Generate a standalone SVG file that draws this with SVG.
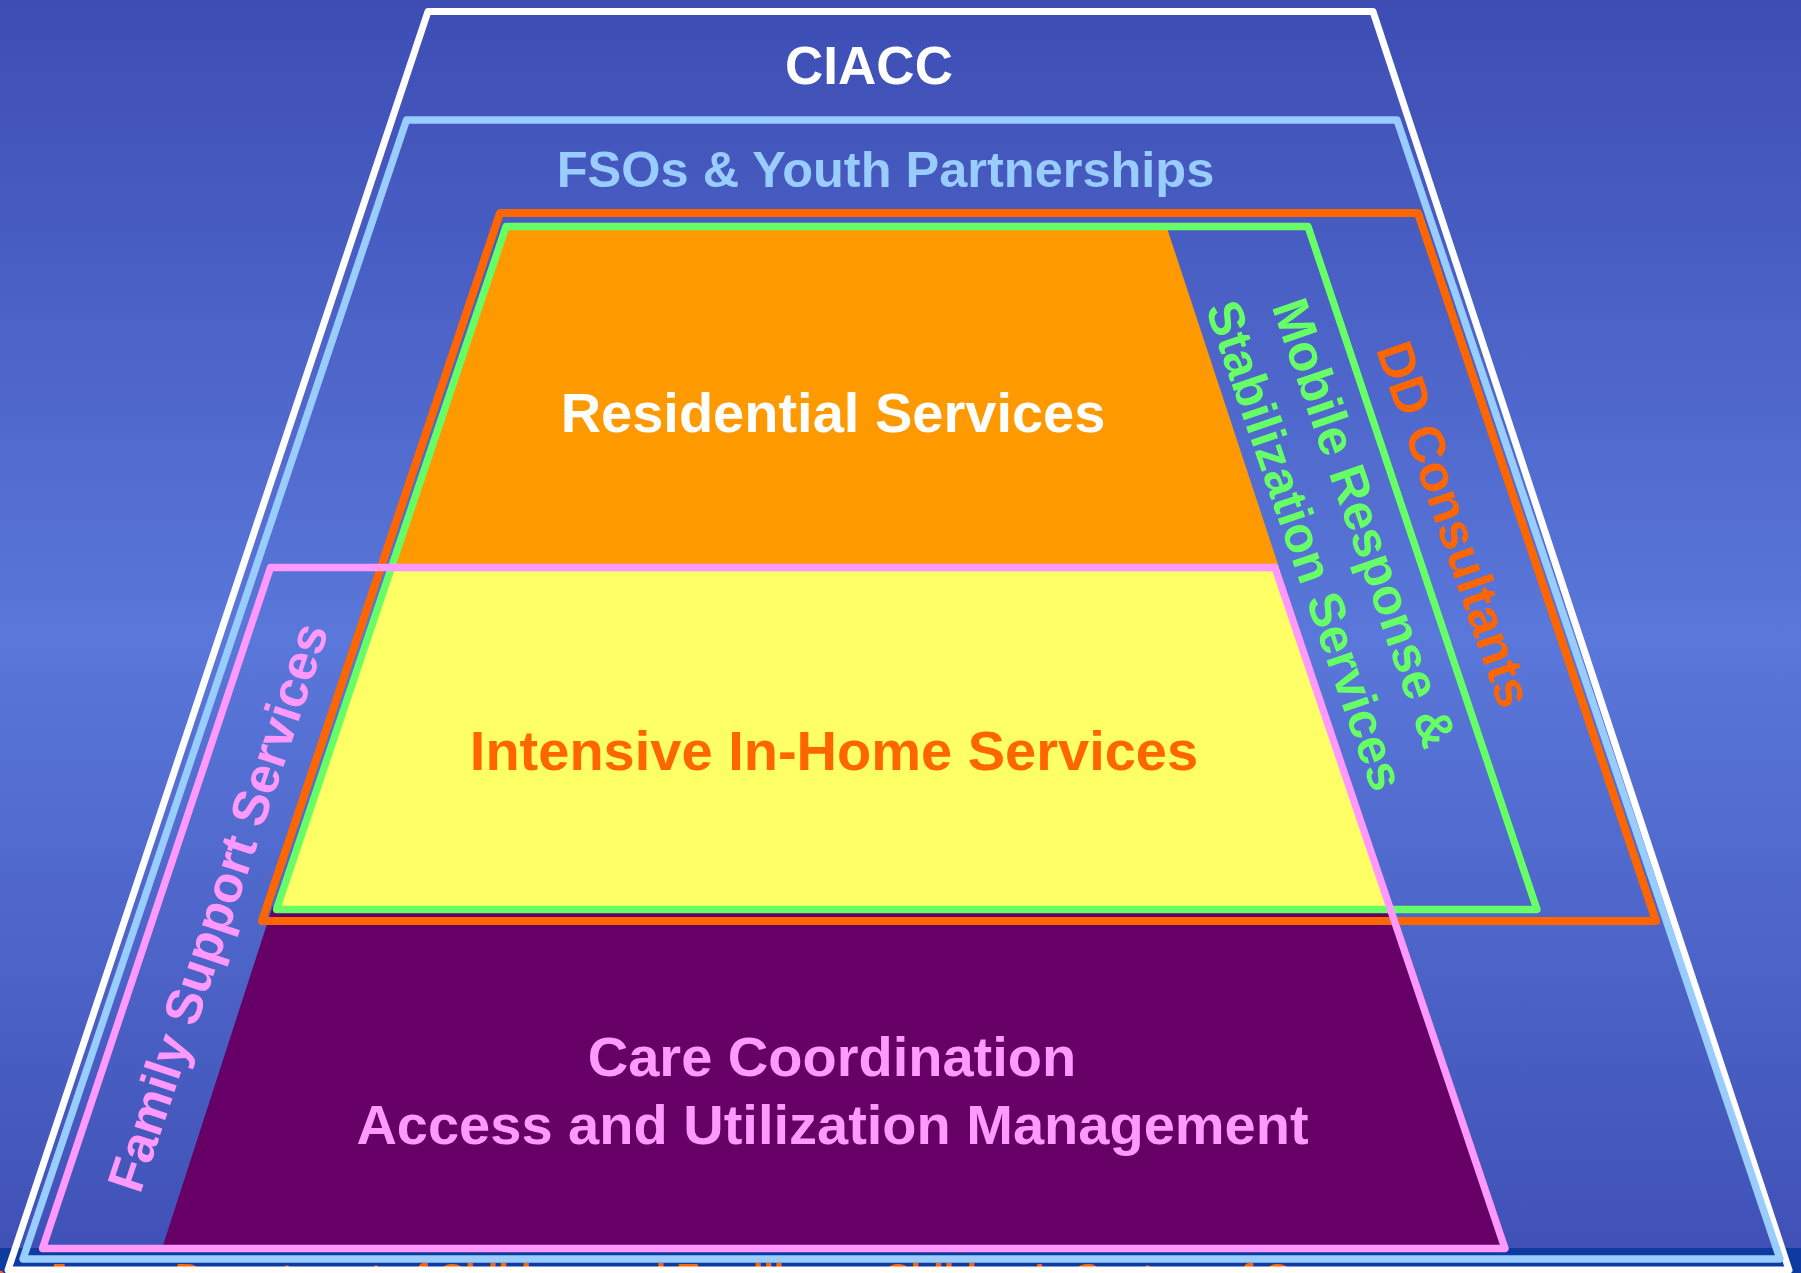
<svg xmlns="http://www.w3.org/2000/svg" width="1801" height="1273" viewBox="0 0 1801 1273">
  <defs>
    <linearGradient id="bg" x1="0" y1="0" x2="0" y2="1">
      <stop offset="0" stop-color="#3d4db4"/>
      <stop offset="0.5" stop-color="#5a77da"/>
      <stop offset="1" stop-color="#3f50b5"/>
    </linearGradient>
  </defs>
  <style>
    .t { font-family: "Liberation Sans", Arial, sans-serif; font-weight: bold; text-anchor: middle; }
    .ol { fill: none; stroke-linejoin: round; }
  </style>
  <rect x="0" y="0" width="1801" height="1273" fill="url(#bg)"/>
  <rect x="0" y="1248" width="1801" height="25" fill="#0f3a9f"/>

  <g id="fills">
    <polygon id="residential-fill" points="506,226.5 1166.5,226.5 1279,567.5 390,567.5" fill="#ff9900"/>
    <polygon id="intensive-fill" points="391,567.5 1275,567.5 1390,909.5 276.5,909.5" fill="#ffff66"/>
    <polygon id="care-fill" points="272.5,907 1391,907 1505,1248.5 162,1248.5" fill="#660066"/>
  </g>

  <text class="t" x="-41" y="1290" font-size="37.3" fill="#ff6600" style="text-anchor:start">New Jersey Department of Children and Families — Children's System of Care</text>

  <g id="ciacc">
    <polygon class="ol" points="428,11.5 1373,11.5 1789,1270 8,1270" stroke="#ffffff" stroke-width="7"/>
    <text class="t" x="869" y="84" font-size="53" fill="#ffffff">CIACC</text>
  </g>

  <g id="fsos">
    <polygon class="ol" points="406.5,120 1397,120 1780,1259 23,1259" stroke="#99ccff" stroke-width="7.3"/>
    <text class="t" x="885.5" y="187" font-size="50.5" fill="#99ccff">FSOs &amp; Youth Partnerships</text>
  </g>

  <g id="dd-consultants">
    <polygon class="ol" points="500,213 1418,213 1656,921 262,921" stroke="#ff6600" stroke-width="8"/>
    <text class="t" font-size="51" fill="#ff6600" transform="translate(1438,530) rotate(71)">DD Consultants</text>
  </g>

  <g id="mobile-response">
    <polygon class="ol" points="506,226.5 1308,226.5 1537,909.5 276.5,909.5" stroke="#66ff66" stroke-width="7.3"/>
    <text class="t" font-size="51" fill="#66ff66" transform="translate(1348,528.7) rotate(71)">Mobile Response &amp;</text>
    <text class="t" font-size="50" fill="#66ff66" transform="translate(1289,551) rotate(71)">Stabilization Services</text>
  </g>

  <g id="residential">
    <text class="t" x="833" y="432" font-size="56" fill="#ffffff">Residential Services</text>
  </g>

  <g id="intensive">
    <text class="t" x="834" y="770" font-size="56" fill="#ff6600">Intensive In-Home Services</text>
  </g>

  <g id="care-coordination">
    <text class="t" x="832" y="1076" font-size="56" fill="#ff99ff">Care Coordination</text>
    <text class="t" x="832.5" y="1144" font-size="56" fill="#ff99ff">Access and Utilization Management</text>
  </g>

  <g id="family-support">
    <polygon class="ol" points="270.5,567.5 1275,567.5 1505,1248.5 42.5,1248.5" stroke="#ff99ff" stroke-width="7.3"/>
    <text class="t" font-size="51" fill="#ff99ff" transform="translate(234.5,912.7) rotate(-71.5)">Family Support Services</text>
  </g>

  <g id="connectors"/>
</svg>
